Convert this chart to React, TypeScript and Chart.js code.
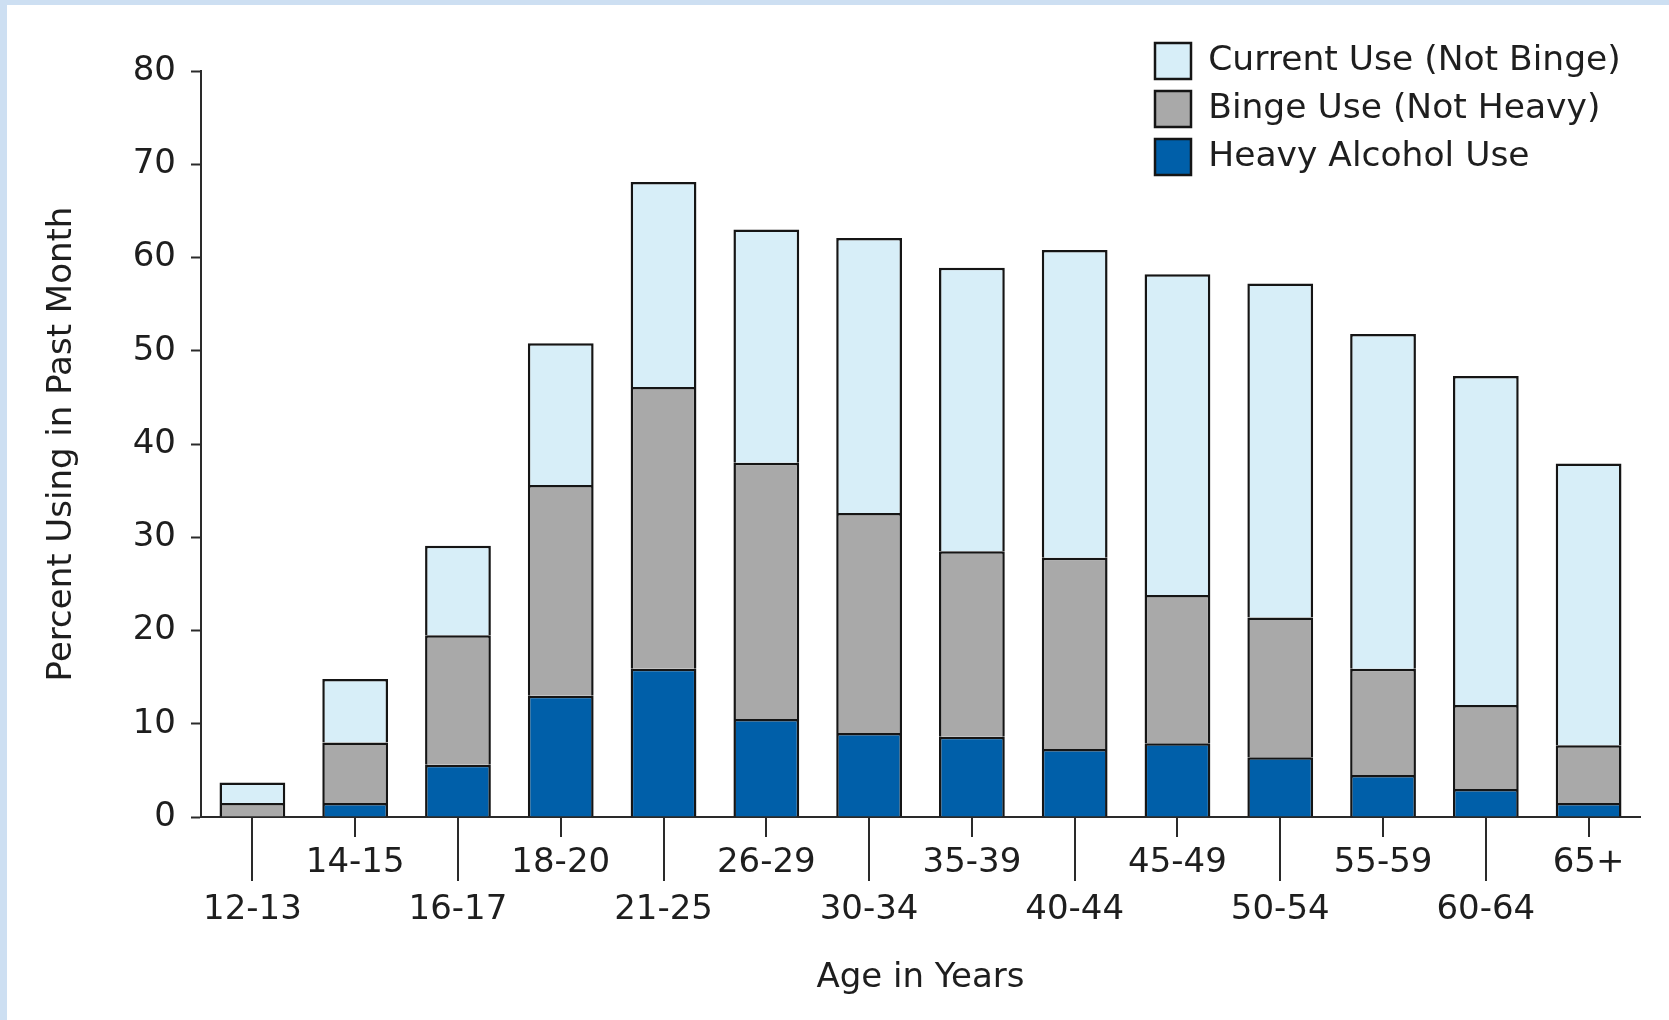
import React, { useEffect, useRef } from 'react';
import { Chart, registerables } from 'chart.js';

Chart.register(...registerables);

const categories = ['12-13', '14-15', '16-17', '18-20', '21-25', '26-29', '30-34', '35-39', '40-44', '45-49', '50-54', '55-59', '60-64', '65+'];
const heavyUse = [0, 1.5, 5.6, 13.0, 15.9, 10.5, 9.0, 8.6, 7.3, 7.9, 6.4, 4.5, 3.0, 1.5];
const bingeUse = [1.5, 6.5, 13.9, 22.6, 30.2, 27.5, 23.6, 19.9, 20.5, 15.9, 15.0, 11.4, 9.0, 6.2];
const currentUse = [2.2, 6.8, 9.6, 15.2, 22.0, 25.0, 29.5, 30.4, 33.0, 34.4, 35.8, 35.9, 35.3, 30.2];
const seriesNames = ['Heavy Alcohol Use', 'Binge Use (Not Heavy)', 'Current Use (Not Binge)'];
const yMin = 0;
const yMax = 80;
const yStep = 10;
const xTitle = 'Age in Years';
const yTitle = 'Percent Using in Past Month';

const FONT = '"DejaVu Sans", "Liberation Sans", sans-serif';
const TEXT = '#1e1e1e';
const AXIS = '#2a2a2a';
const EDGE = '#151515';

export default function App() {
  const ref = useRef<HTMLCanvasElement | null>(null);

  useEffect(() => {
    const canvas = ref.current;
    if (!canvas) return;

    const altTicks = {
      id: 'altTicks',
      afterDraw(chart: any) {
        const xs = chart.scales.x;
        const ctx = chart.ctx;
        ctx.save();
        ctx.strokeStyle = AXIS;
        ctx.lineWidth = 2;
        xs.ticks.forEach((_t: any, i: number) => {
          const x = Math.round(xs.getPixelForTick(i));
          const len = i % 2 === 0 ? 64 : 20;
          ctx.beginPath();
          ctx.moveTo(x, xs.top);
          ctx.lineTo(x, xs.top + len);
          ctx.stroke();
        });
        ctx.restore();
      },
    };

    const legendPlace = {
      id: 'legendPlace',
      afterLayout(chart: any) {
        const lg = chart.legend;
        if (!lg) return;
        const w = lg.width;
        const h = lg.height;
        lg.left = 1143;
        lg.top = 31;
        lg.right = lg.left + w;
        lg.bottom = lg.top + h;
      },
    };

    const labels = categories.map((c, i) => (i % 2 === 0 ? ['', c] : c));

    const chart = new Chart(canvas, {
      type: 'bar',
      data: {
        labels,
        datasets: [
          { label: seriesNames[0], data: heavyUse, backgroundColor: '#005fa9', borderColor: EDGE, borderWidth: 2.5 },
          { label: seriesNames[1], data: bingeUse, backgroundColor: '#a9a9a9', borderColor: EDGE, borderWidth: 2.5 },
          { label: seriesNames[2], data: currentUse, backgroundColor: '#d7eef8', borderColor: EDGE, borderWidth: 2.5 },
        ],
      },
      options: {
        animation: false,
        responsive: true,
        maintainAspectRatio: false,
        datasets: { bar: { barPercentage: 0.64, categoryPercentage: 1 } },
        layout: { padding: { top: 71, right: 29, left: 0, bottom: 0 } },
        plugins: {
          legend: {
            position: 'chartArea' as any,
            align: 'start',
            reverse: true,
            labels: {
              boxWidth: 36,
              boxHeight: 36,
              padding: 12,
              color: TEXT,
              font: { family: FONT, size: 34.5 },
            },
          },
          tooltip: { enabled: false },
        },
        scales: {
          x: {
            stacked: true,
            grid: { display: true, drawOnChartArea: false, drawTicks: false },
            border: { display: true, color: AXIS, width: 2 },
            ticks: {
              autoSkip: false,
              maxRotation: 0,
              minRotation: 0,
              padding: 22.5,
              color: TEXT,
              font: { family: FONT, size: 34, lineHeight: 1.38 },
            },
            title: {
              display: true,
              text: xTitle,
              color: TEXT,
              font: { family: FONT, size: 34 },
              padding: { top: 0, bottom: 21 },
            },
            afterFit(scale: any) {
              scale.height = 203;
            },
          },
          y: {
            stacked: true,
            min: yMin,
            max: yMax,
            ticks: {
              stepSize: yStep,
              padding: 15,
              color: TEXT,
              font: { family: FONT, size: 34 },
            },
            grid: { drawOnChartArea: false, drawTicks: true, tickLength: 10, tickWidth: 2, tickColor: AXIS },
            border: { display: true, color: AXIS, width: 2 },
            title: {
              display: true,
              text: yTitle,
              color: TEXT,
              font: { family: FONT, size: 34 },
              padding: { top: 42, bottom: 0 },
            },
            afterFit(scale: any) {
              scale.width = 201;
            },
          },
        },
      },
      plugins: [altTicks, legendPlace],
    });

    return () => chart.destroy();
  }, []);

  return (
    <div style={{ position: 'absolute', left: 0, top: 0, width: 1669, height: 1020, background: '#ffffff', overflow: 'hidden' }}>
      <div style={{ position: 'absolute', left: 0, top: 0, width: 7, height: 1020, background: '#cddff2' }} />
      <div style={{ position: 'absolute', left: 0, top: 0, width: 1669, height: 5, background: '#cddff2' }} />
      <div style={{ position: 'absolute', left: 0, top: 0, width: 1669, height: 1020 }}>
        <canvas ref={ref} />
      </div>
    </div>
  );
}
